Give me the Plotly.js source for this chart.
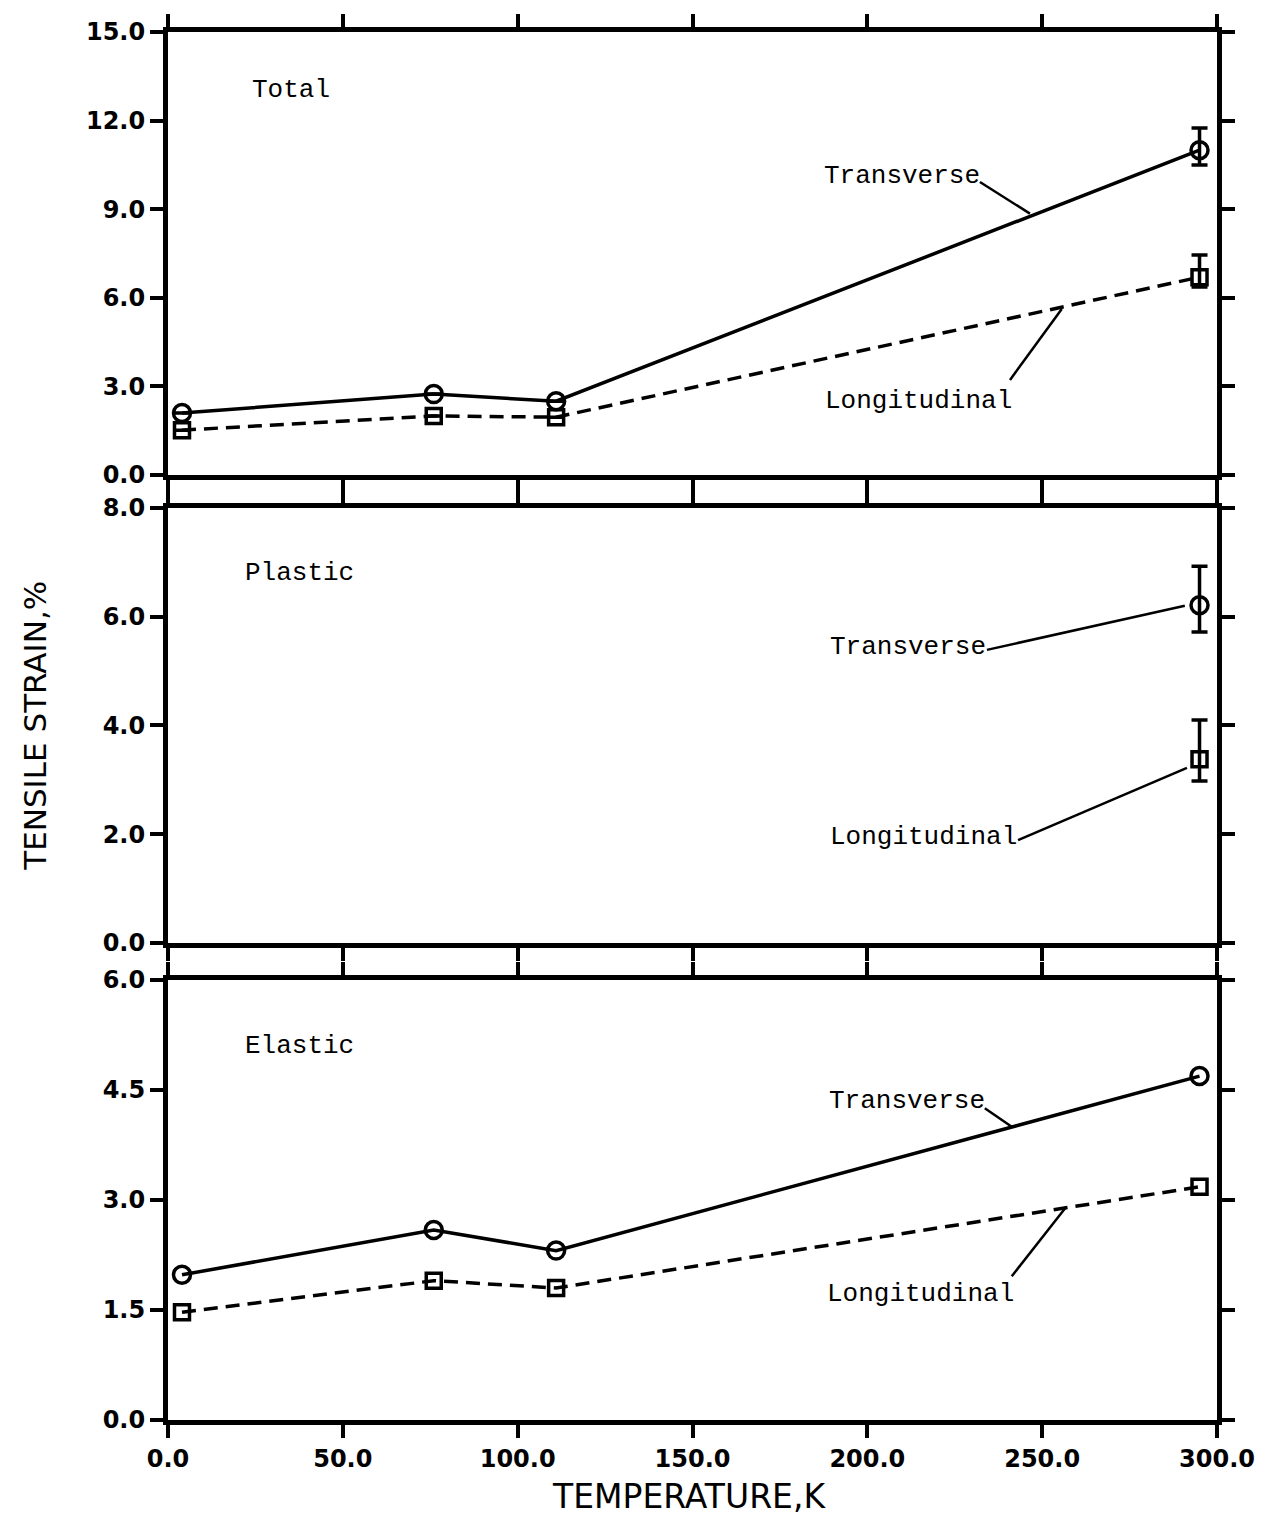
<!DOCTYPE html>
<html>
<head>
<meta charset="utf-8">
<script src="https://cdn.plot.ly/plotly-3.0.1.min.js"></script>
<style>html,body{margin:0;padding:0;background:#fff;}</style>
</head>
<body>
<div id="chart" style="width:1274px;height:1520px;"></div>
<script>
// ---- data ----
const temps = [4, 76, 111, 295];

const totalTransverse = [2.1, 2.74, 2.5, 11.0];
const totalTransErrPlus = [null, null, null, 0.75];
const totalTransErrMinus = [null, null, null, 0.5];
const totalLongitudinal = [1.52, 2.0, 1.96, 6.7];
const totalLongErrPlus = [null, null, null, 0.75];
const totalLongErrMinus = [null, null, null, 0.33];

const plasticTemps = [295];
const plasticTransverse = [6.21];
const plasticTransErrPlus = [0.72];
const plasticTransErrMinus = [0.49];
const plasticLongitudinal = [3.38];
const plasticLongErrPlus = [0.72];
const plasticLongErrMinus = [0.4];

const elasticTransverse = [1.98, 2.59, 2.31, 4.69];
const elasticLongitudinal = [1.47, 1.90, 1.80, 3.18];

const xTicks = [0, 50, 100, 150, 200, 250, 300];
const xTickText = ["0.0", "50.0", "100.0", "150.0", "200.0", "250.0", "300.0"];
const totalTicks = [0, 3, 6, 9, 12, 15];
const totalTickText = ["0.0", "3.0", "6.0", "9.0", "12.0", "15.0"];
const plasticTicks = [0, 2, 4, 6, 8];
const plasticTickText = ["0.0", "2.0", "4.0", "6.0", "8.0"];
const elasticTicks = [0, 1.5, 3, 4.5, 6];
const elasticTickText = ["0.0", "1.5", "3.0", "4.5", "6.0"];

const panelNames = ["Total", "Plastic", "Elastic"];
const seriesNames = ["Transverse", "Longitudinal"];

// ---- styling ----
const BLACK = "#000";
const solidLine = {color: BLACK, width: 3.5};
const dashLine = {color: BLACK, width: 3.5, dash: "14px,8px"};
const circ = {symbol: "circle-open", size: 17, color: BLACK, line: {width: 3.5, color: BLACK}};
const sq = {symbol: "square-open", size: 15, color: BLACK, line: {width: 3.5, color: BLACK}};
function errs(plus, minus) {
  return {type: "data", symmetric: false, array: plus, arrayminus: minus,
          color: BLACK, thickness: 3.5, width: 8};
}

const traces = [
  {x: temps, y: totalTransverse, xaxis: "x", yaxis: "y", mode: "lines+markers",
   line: solidLine, marker: circ, error_y: errs(totalTransErrPlus, totalTransErrMinus), name: seriesNames[0]},
  {x: temps, y: totalLongitudinal, xaxis: "x", yaxis: "y", mode: "lines+markers",
   line: dashLine, marker: sq, error_y: errs(totalLongErrPlus, totalLongErrMinus), name: seriesNames[1]},
  {x: plasticTemps, y: plasticTransverse, xaxis: "x2", yaxis: "y2", mode: "markers",
   marker: circ, error_y: errs(plasticTransErrPlus, plasticTransErrMinus), name: seriesNames[0]},
  {x: plasticTemps, y: plasticLongitudinal, xaxis: "x2", yaxis: "y2", mode: "markers",
   marker: sq, error_y: errs(plasticLongErrPlus, plasticLongErrMinus), name: seriesNames[1]},
  {x: temps, y: elasticTransverse, xaxis: "x3", yaxis: "y3", mode: "lines+markers",
   line: solidLine, marker: circ, name: seriesNames[0]},
  {x: temps, y: elasticLongitudinal, xaxis: "x3", yaxis: "y3", mode: "lines+markers",
   line: dashLine, marker: sq, name: seriesNames[1]}
];

const tickFont = {family: "DejaVu Sans", size: 24, color: BLACK, weight: "bold"};
function xAxis(anchor, showLabels) {
  return {anchor: anchor, domain: [0, 1], range: [0, 300], tickvals: xTicks, ticktext: xTickText,
          showticklabels: showLabels, ticks: "outside", ticklen: 13, tickwidth: 4, tickcolor: BLACK,
          showline: true, linewidth: 5, linecolor: BLACK, mirror: "ticks", showgrid: false, zeroline: false,
          tickfont: tickFont, fixedrange: true};
}
function yAxis(anchor, domain, range, vals, text) {
  return {anchor: anchor, domain: domain, range: range, tickvals: vals, ticktext: text,
          ticks: "outside", ticklen: 13, tickwidth: 4, tickcolor: BLACK,
          showline: true, linewidth: 5, linecolor: BLACK, mirror: "ticks", showgrid: false, zeroline: false,
          tickfont: tickFont, fixedrange: true};
}

const labelFont = {family: "Liberation Mono", size: 26, color: BLACK};
function label(xref, yref, x, y, text) {
  return {xref: xref, yref: yref, x: x, y: y, text: text, showarrow: false,
          xanchor: "left", yanchor: "middle", font: labelFont};
}

const annotations = [
  label("x", "y", 23.4, 13.04, panelNames[0]),
  label("x", "y", 187.0, 10.12, seriesNames[0]),
  label("x", "y", 187.3, 2.51, seriesNames[1]),
  label("x2", "y2", 21.4, 6.80, panelNames[1]),
  label("x2", "y2", 188.7, 5.44, seriesNames[0]),
  label("x2", "y2", 188.7, 1.95, seriesNames[1]),
  label("x3", "y3", 21.4, 5.10, panelNames[2]),
  label("x3", "y3", 188.4, 4.35, seriesNames[0]),
  label("x3", "y3", 187.9, 1.72, seriesNames[1]),
  {xref: "paper", yref: "paper", x: -0.127, y: 0.50, text: "TENSILE STRAIN,%", textangle: -90,
   showarrow: false, xanchor: "center", yanchor: "middle",
   font: {family: "DejaVu Sans", size: 31, color: BLACK}},
  {xref: "paper", yref: "paper", x: 0.497, y: -0.055, text: "TEMPERATURE,K",
   showarrow: false, xanchor: "center", yanchor: "middle",
   font: {family: "DejaVu Sans", size: 33, color: BLACK}}
];

function leader(xref, yref, x0, y0, x1, y1) {
  return {type: "line", xref: xref, yref: yref, x0: x0, y0: y0, x1: x1, y1: y1,
          line: {color: BLACK, width: 2.5}};
}
const shapes = [
  leader("x", "y", 232.2, 9.92, 246.5, 8.85),
  leader("x", "y", 240.8, 3.22, 255.6, 5.62),
  leader("x2", "y2", 234.2, 5.39, 290.8, 6.20),
  leader("x2", "y2", 243.1, 1.89, 291.4, 3.22),
  leader("x3", "y3", 233.6, 4.25, 241.3, 4.0),
  leader("x3", "y3", 241.3, 1.96, 256.8, 2.90)
];

const layout = {
  width: 1274, height: 1520,
  margin: {l: 168, r: 57, t: 32, b: 100},
  paper_bgcolor: "#fff", plot_bgcolor: "#fff",
  showlegend: false,
  xaxis: xAxis("y", false),
  yaxis: yAxis("x", [0.6808, 1], [0, 15], totalTicks, totalTickText),
  xaxis2: xAxis("y2", false),
  yaxis2: yAxis("x2", [0.3437, 0.6571], [0, 8], plasticTicks, plasticTickText),
  xaxis3: xAxis("y3", true),
  yaxis3: yAxis("x3", [0, 0.3170], [0, 6], elasticTicks, elasticTickText),
  annotations: annotations,
  shapes: shapes
};

Plotly.newPlot("chart", traces, layout, {staticPlot: true, displayModeBar: false});
</script>
</body>
</html>
